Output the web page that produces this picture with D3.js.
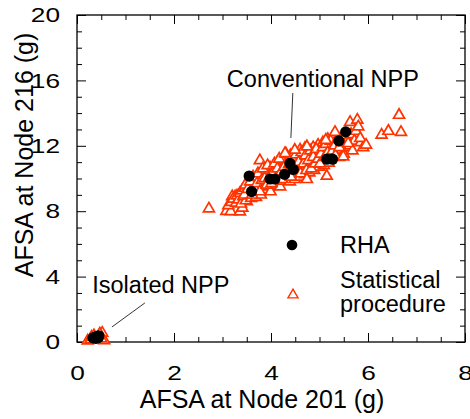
<!DOCTYPE html>
<html lang="en">
<head>
<meta charset="UTF-8">
<title>AFSA Node 201 vs Node 216</title>
<script src="https://cdn.jsdelivr.net/npm/d3@7"></script>
<style>
    body { margin: 0; background: #fff; }
    text { font-family: "Liberation Sans", Arial, sans-serif; fill: #000; }
</style>
</head>
<body>
<svg id="svg" width="470" height="419"></svg>
<script>
    // RHA results (black dots)
    const rhaConventional = [
        [3.55, 10.15], [3.60, 9.2], [3.98, 9.97], [4.08, 9.97], [4.28, 10.25],
        [4.39, 10.92], [4.46, 10.55], [5.15, 11.18], [5.27, 11.18], [5.40, 12.3], [5.54, 12.85]
    ]
    const rhaIsolated = [
        [0.33, 0.25], [0.37, 0.3], [0.41, 0.35], [0.45, 0.38], [0.39, 0.22], [0.44, 0.27]
    ]

    // statistical procedure (red triangles)
    const statConventional = [
        [2.72, 8.15], [3.08, 8.0], [3.17, 7.98], [3.36, 7.97], [3.41, 8.2], [3.5, 8.6],
        [3.2, 8.9], [3.26, 8.89], [3.77, 11.1],
        [3.12, 8.35], [3.18, 8.55], [3.22, 8.75], [3.28, 8.5], [3.3, 8.95],
        [3.33, 8.7], [3.36, 9.1], [3.38, 8.45], [3.4, 9.25],
        [3.43, 8.9], [3.46, 9.4], [3.48, 8.65], [3.5, 9.15],
        [3.53, 9.55], [3.55, 8.95], [3.57, 9.3], [3.6, 9.75], [3.59, 8.8],
        [3.62, 9.45], [3.64, 9.1], [3.66, 9.9], [3.68, 9.6], [3.7, 9.25], [3.69, 8.85],
        [3.72, 10.05], [3.74, 9.75], [3.76, 9.4], [3.78, 10.2], [3.8, 9.55], [3.79, 9.0],
        [3.82, 10.35], [3.84, 9.95], [3.86, 9.65], [3.88, 9.3], [3.9, 10.5], [3.89, 10.1],
        [3.92, 9.8], [3.94, 10.3], [3.96, 9.5], [3.98, 10.65], [4.0, 10.0], [3.99, 9.2],
        [4.02, 10.45], [4.04, 9.75], [4.06, 10.8], [4.08, 10.2], [4.1, 9.6], [4.1, 10.55],
        [4.12, 10.95], [4.14, 10.35], [4.16, 9.9], [4.18, 10.7], [4.2, 10.15], [4.19, 9.5],
        [4.22, 11.1], [4.24, 10.5], [4.26, 9.85], [4.28, 10.85], [4.3, 10.3], [4.29, 11.3],
        [4.32, 10.65], [4.34, 10.0], [4.36, 11.05], [4.38, 10.45], [4.4, 11.4], [4.39, 9.8],
        [4.42, 10.8], [4.44, 10.2], [4.46, 11.2], [4.48, 10.55], [4.5, 11.6], [4.49, 9.95],
        [4.52, 10.95], [4.54, 10.35], [4.56, 11.35], [4.58, 10.7], [4.6, 11.75], [4.6, 10.1],
        [4.62, 11.1], [4.64, 10.5], [4.66, 11.5], [4.68, 10.85], [4.7, 11.85], [4.7, 10.25],
        [4.72, 11.25], [4.75, 10.65], [4.77, 11.65], [4.8, 11.0], [4.79, 10.35],
        [4.82, 11.45], [4.85, 10.8], [4.87, 11.9], [4.9, 11.2], [4.89, 10.5],
        [4.92, 11.6], [4.95, 10.95], [4.97, 12.05], [5.0, 11.35], [4.99, 10.7],
        [5.02, 11.8], [5.05, 11.1], [5.07, 12.2], [5.1, 11.5], [5.09, 10.8],
        [5.12, 11.95], [5.15, 11.25], [5.17, 12.4], [5.2, 11.65], [5.19, 10.95],
        [5.22, 12.1], [5.25, 11.4], [5.27, 12.55], [5.3, 11.8],
        [5.32, 12.25], [5.35, 11.55], [5.38, 12.0], [5.4, 11.3],
        [5.42, 12.4], [5.45, 11.75], [5.48, 12.15], [5.5, 11.5],
        [5.52, 12.6], [5.55, 11.9], [5.58, 12.35],
        [5.62, 12.0], [5.65, 12.7], [5.68, 11.7],
        [5.72, 12.3], [5.75, 12.9], [5.85, 12.2], [5.9, 11.9],
        [3.45, 9.0], [3.47, 9.6], [3.52, 9.35], [3.57, 9.8], [3.61, 9.0], [3.63, 10.1],
        [3.67, 9.4], [3.71, 9.7], [3.73, 10.3], [3.77, 9.2], [3.81, 9.9], [3.83, 10.6],
        [3.87, 10.0], [3.91, 9.6], [3.93, 10.8], [3.97, 10.1], [4.01, 9.7], [4.03, 10.3],
        [4.07, 10.9], [4.11, 10.0], [4.13, 10.6], [4.17, 11.2], [4.21, 10.4], [4.23, 9.95],
        [4.27, 10.7], [4.31, 11.5], [4.33, 10.3], [4.37, 10.85], [4.41, 10.1], [4.43, 11.3],
        [4.47, 10.7], [4.51, 11.45], [4.53, 10.5], [4.57, 11.0], [4.61, 10.3], [4.63, 11.6],
        [4.67, 10.9], [4.71, 11.4], [4.73, 10.5], [4.77, 11.1], [4.81, 11.7], [4.83, 10.6],
        [4.87, 11.3], [4.91, 10.9], [4.93, 11.8], [4.97, 11.2], [5.01, 10.9], [5.03, 11.5],
        [5.07, 11.9], [5.11, 11.3], [5.13, 12.1], [5.17, 11.6], [5.21, 11.2], [5.23, 12.3],
        [5.27, 11.7], [5.31, 12.0], [5.33, 11.4], [5.37, 12.4], [5.41, 11.9], [5.45, 12.2],
        [4.29, 11.54], [4.49, 11.74], [4.74, 11.95], [5.13, 12.35], [5.32, 12.83],
        [5.63, 13.44], [5.78, 13.58], [5.8, 13.17], [5.84, 12.46], [5.96, 12.05],
        [5.59, 12.15], [6.28, 12.66], [6.42, 12.9], [6.64, 13.88], [6.68, 12.83],
        [5.15, 10.15], [5.49, 11.33], [4.74, 9.95]
    ]
    const statIsolated = [
        [0.22, 0.08], [0.28, 0.15], [0.56, 0.1], [0.52, 0.55], [0.47, 0.5],
        [0.35, 0.4], [0.5, 0.2], [0.3, 0.3]
    ]

    const xTicks = [0, 2, 4, 6, 8]
    const yTicks = [0, 4, 8, 12, 16, 20]

    // annotations, in data units
    const notes = [
        { text: "Conventional NPP", x: 3.09, y: 15.58, line: [[4.45, 15.23], [4.41, 12.48]] },
        { text: "Isolated NPP", x: 0.315, y: 3.0, line: [[1.40, 2.39], [0.72, 0.92]] }
    ]

    const plot = { left: 77, top: 15, right: 465, bottom: 342 }
    const red = "#ff3300"

    const x = d3.scaleLinear().domain([0, 8]).range([plot.left, plot.right])
    const y = d3.scaleLinear().domain([0, 20]).range([plot.bottom, plot.top])

    const svg = d3.select("#svg")

    const xMinor = d3.range(0, 8.01, 0.5).filter(v => !xTicks.includes(v))
    const yMinor = d3.range(0, 20.01, 1).filter(v => !yTicks.includes(v))

    function styleAxis(g) {
        g.select(".domain").remove()
        g.selectAll("line").attr("stroke", "#000").attr("stroke-width", 1)
        g.attr("font-size", 21).attr("font-family", '"Liberation Sans", Arial, sans-serif')
    }

    // widen tick labels a bit like the original
    function stretch(g) {
        g.selectAll(".tick text").each(function () {
            const w = this.getComputedTextLength()
            d3.select(this).attr("textLength", w * 1.25).attr("lengthAdjust", "spacingAndGlyphs")
        })
    }

    // left
    svg.append("g").attr("transform", `translate(${plot.left},0)`)
        .call(d3.axisLeft(y).tickValues(yTicks).tickSize(-9).tickPadding(17))
        .call(styleAxis).call(stretch)
    svg.append("g").attr("transform", `translate(${plot.left},0)`)
        .call(d3.axisLeft(y).tickValues(yMinor).tickSize(-5).tickFormat(""))
        .call(styleAxis)
    // right
    svg.append("g").attr("transform", `translate(${plot.right},0)`)
        .call(d3.axisRight(y).tickValues(yTicks).tickSize(-9).tickFormat(""))
        .call(styleAxis)
    svg.append("g").attr("transform", `translate(${plot.right},0)`)
        .call(d3.axisRight(y).tickValues(yMinor).tickSize(-5).tickFormat(""))
        .call(styleAxis)
    // bottom
    svg.append("g").attr("transform", `translate(0,${plot.bottom})`)
        .call(d3.axisBottom(x).tickValues(xTicks).tickSize(-9).tickPadding(23))
        .call(styleAxis).call(stretch)
    svg.append("g").attr("transform", `translate(0,${plot.bottom})`)
        .call(d3.axisBottom(x).tickValues(xMinor).tickSize(-5).tickFormat(""))
        .call(styleAxis)
    // top
    svg.append("g").attr("transform", `translate(0,${plot.top})`)
        .call(d3.axisTop(x).tickValues(xTicks).tickSize(-9).tickFormat(""))
        .call(styleAxis)
    svg.append("g").attr("transform", `translate(0,${plot.top})`)
        .call(d3.axisTop(x).tickValues(xMinor).tickSize(-5).tickFormat(""))
        .call(styleAxis)

    svg.append("rect")
        .attr("x", plot.left).attr("y", plot.top)
        .attr("width", plot.right - plot.left).attr("height", plot.bottom - plot.top)
        .attr("fill", "none").attr("stroke", "#000").attr("stroke-width", 1.3)

    // axis titles
    svg.append("text")
        .attr("x", 262).attr("y", 408)
        .attr("text-anchor", "middle").attr("font-size", 25)
        .text("AFSA at Node 201 (g)")
    svg.append("text")
        .attr("transform", "translate(33,155) rotate(-90)")
        .attr("text-anchor", "middle").attr("font-size", 25)
        .text("AFSA at Node 216 (g)")

    const triangle = d3.symbol().type(d3.symbolTriangle).size(52)

    // triangles under the dots
    svg.append("g").selectAll("path")
        .data(statConventional.concat(statIsolated))
        .join("path")
        .attr("d", triangle)
        .attr("transform", d => `translate(${x(d[0])},${y(d[1])})`)
        .attr("fill", "#fff")
        .attr("stroke", red)
        .attr("stroke-width", 1.7)

    svg.append("g").selectAll("circle")
        .data(rhaConventional.concat(rhaIsolated))
        .join("circle")
        .attr("cx", d => x(d[0]))
        .attr("cy", d => y(d[1]))
        .attr("r", 5.6)
        .attr("fill", "#000")

    // annotations
    notes.forEach(n => {
        svg.append("text")
            .attr("x", x(n.x)).attr("y", y(n.y))
            .attr("font-size", 23.5)
            .text(n.text)
        svg.append("line")
            .attr("x1", x(n.line[0][0])).attr("y1", y(n.line[0][1]))
            .attr("x2", x(n.line[1][0])).attr("y2", y(n.line[1][1]))
            .attr("stroke", "#333").attr("stroke-width", 1)
    })

    // legend
    const legend = svg.append("g")
    legend.append("circle").attr("cx", 292).attr("cy", 245).attr("r", 5.3).attr("fill", "#000")
    legend.append("text").attr("x", 340).attr("y", 253).attr("font-size", 23.5).text("RHA")
    legend.append("path")
        .attr("d", d3.symbol().type(d3.symbolTriangle).size(44))
        .attr("transform", "translate(293,295)")
        .attr("fill", "#fff").attr("stroke", red).attr("stroke-width", 1.4)
    legend.append("text").attr("x", 340).attr("y", 288).attr("font-size", 23.5).text("Statistical")
    legend.append("text").attr("x", 340).attr("y", 312).attr("font-size", 23.5).text("procedure")
</script>
</body>
</html>
